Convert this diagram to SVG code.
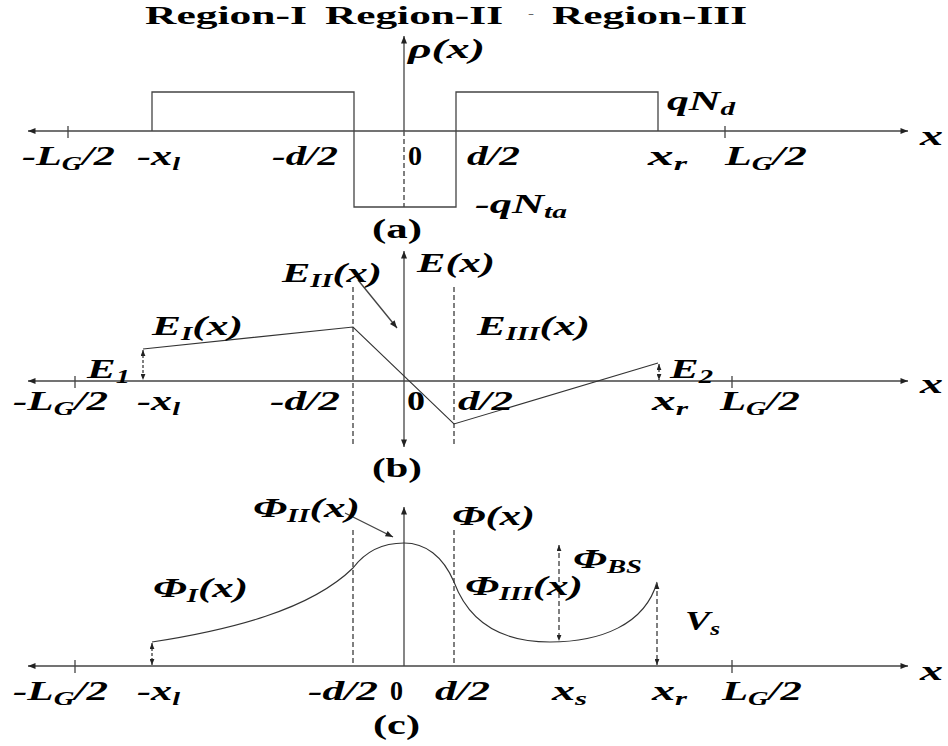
<svg xmlns="http://www.w3.org/2000/svg" width="948" height="746" viewBox="0 0 948 746">
<style>
.t{font-family:"Liberation Serif","Times New Roman",serif;font-weight:bold;font-style:italic;font-size:27px;fill:#000}
.u{font-family:"Liberation Serif","Times New Roman",serif;font-weight:bold;font-size:27px;fill:#000}
.h{font-size:26px}
.s{font-size:18px}
.ln{stroke:#444;stroke-width:1.3;fill:none}
.cv{stroke:#333;stroke-width:1.1;fill:none}
.ds{stroke:#555;stroke-width:1.5;stroke-dasharray:5 3;fill:none}
</style>
<defs>
<marker id="ah" viewBox="0 0 10 8" refX="10" refY="4" markerWidth="9" markerHeight="6" markerUnits="userSpaceOnUse" orient="auto-start-reverse"><path d="M0,0 L10,4 L0,8 z" fill="#222"/></marker>
<marker id="sh" viewBox="0 0 10 8" refX="10" refY="4" markerWidth="6" markerHeight="5" markerUnits="userSpaceOnUse" orient="auto-start-reverse"><path d="M0,0 L10,4 L0,8 z" fill="#222"/></marker>
</defs>
<rect width="948" height="746" fill="#fff"/>

<g id="title">
<text class="u h" x="145" y="24" textLength="162" lengthAdjust="spacingAndGlyphs">Region-I</text>
<text class="u h" x="325" y="24" textLength="178" lengthAdjust="spacingAndGlyphs">Region-II</text>
<text x="528" y="18" style="font-family:'Liberation Serif',serif;font-size:12px;fill:#666" textLength="6" lengthAdjust="spacingAndGlyphs">-</text>
<text class="u h" x="552" y="24" textLength="195" lengthAdjust="spacingAndGlyphs">Region-III</text>
</g>

<g id="connectors">
<!-- panel a -->
<line class="ln" x1="28" y1="131" x2="908" y2="131" marker-start="url(#ah)" marker-end="url(#ah)"/>
<line class="ln" x1="68" y1="126" x2="68" y2="138"/>
<line class="ln" x1="725" y1="126" x2="725" y2="138"/>
<line class="ln" x1="404" y1="131" x2="404" y2="36" marker-end="url(#ah)"/>
<line class="ds" x1="404" y1="131" x2="404" y2="207"/>
<path class="ln" d="M152,131 V92 H354 V207 H456 V92 H658 V131"/>
<!-- panel b -->
<line class="ln" x1="28" y1="381" x2="908" y2="381" marker-start="url(#ah)" marker-end="url(#ah)"/>
<line class="ln" x1="75" y1="376" x2="75" y2="388"/>
<line class="ln" x1="732" y1="376" x2="732" y2="388"/>
<line class="ln" x1="404" y1="251" x2="404" y2="447" marker-start="url(#ah)" marker-end="url(#ah)"/>
<line class="ds" x1="353" y1="287" x2="353" y2="445"/>
<line class="ds" x1="454" y1="287" x2="454" y2="445"/>
<polyline class="cv" points="143,349 353,327 454,424 658,363"/>
<line class="ds" x1="143" y1="350" x2="143" y2="380" marker-start="url(#sh)" marker-end="url(#sh)" style="stroke-dasharray:3 2"/>
<line class="ds" x1="659" y1="364" x2="659" y2="380" marker-start="url(#sh)" marker-end="url(#sh)" style="stroke-dasharray:3 2"/>
<line class="ln" x1="358" y1="280" x2="397" y2="328" marker-end="url(#ah)"/>
<!-- panel c -->
<line class="ln" x1="28" y1="666" x2="908" y2="666" marker-start="url(#ah)" marker-end="url(#ah)"/>
<line class="ln" x1="75" y1="660" x2="75" y2="673"/>
<line class="ln" x1="732" y1="660" x2="732" y2="673"/>
<line class="ln" x1="404" y1="666" x2="404" y2="507" marker-end="url(#ah)"/>
<line class="ds" x1="353" y1="530" x2="353" y2="666"/>
<line class="ds" x1="454" y1="530" x2="454" y2="666"/>
<path class="cv" d="M152,642 C230,630 310,610 353,568 C365,552 382,543 404,543 C425,543 443,556 454,582 C470,625 505,642 550,642 C600,642 645,625 657,582"/>
<line class="ds" x1="152" y1="643" x2="152" y2="665" marker-start="url(#sh)" marker-end="url(#sh)" style="stroke-dasharray:3 2"/>
<line class="ds" x1="559" y1="545" x2="559" y2="641" marker-start="url(#sh)" marker-end="url(#sh)"/>
<line class="ds" x1="657" y1="583" x2="657" y2="665" marker-start="url(#sh)" marker-end="url(#sh)"/>
<line class="ln" x1="345" y1="513" x2="393" y2="537" marker-end="url(#ah)"/>
</g>

<g id="panel-a">
<text class="t" x="408" y="58" textLength="77" lengthAdjust="spacingAndGlyphs">ρ(x)</text>
<text class="t" x="667" y="110" textLength="68" lengthAdjust="spacingAndGlyphs">qN<tspan class="s" dy="5">d</tspan></text>
<text class="t" x="475" y="213" textLength="92" lengthAdjust="spacingAndGlyphs">-qN<tspan class="s" dy="5">ta</tspan></text>
<text class="t" x="22" y="165" textLength="93" lengthAdjust="spacingAndGlyphs">-L<tspan class="s" dy="5">G</tspan><tspan dy="-5">/2</tspan></text>
<text class="t" x="137" y="165" textLength="43" lengthAdjust="spacingAndGlyphs">-x<tspan class="s" dy="5">l</tspan></text>
<text class="t" x="272" y="165" textLength="66" lengthAdjust="spacingAndGlyphs">-d/2</text>
<text class="u" x="408" y="165" textLength="14" lengthAdjust="spacingAndGlyphs">0</text>
<text class="t" x="467" y="165" textLength="53" lengthAdjust="spacingAndGlyphs">d/2</text>
<text class="t" x="648" y="165" textLength="39" lengthAdjust="spacingAndGlyphs">x<tspan class="s" dy="5">r</tspan></text>
<text class="t" x="725" y="165" textLength="82" lengthAdjust="spacingAndGlyphs">L<tspan class="s" dy="5">G</tspan><tspan dy="-5">/2</tspan></text>
<text class="t" x="920" y="145" textLength="23" lengthAdjust="spacingAndGlyphs">x</text>
<text class="u" x="372" y="238" textLength="50" lengthAdjust="spacingAndGlyphs">(a)</text>
</g>

<g id="panel-b">
<text class="t" x="282" y="282" textLength="100" lengthAdjust="spacingAndGlyphs">E<tspan class="s" dy="5">II</tspan><tspan dy="-5">(x)</tspan></text>
<text class="t" x="417" y="272" textLength="78" lengthAdjust="spacingAndGlyphs">E(x)</text>
<text class="t" x="152" y="335" textLength="91" lengthAdjust="spacingAndGlyphs">E<tspan class="s" dy="5">I</tspan><tspan dy="-5">(x)</tspan></text>
<text class="t" x="477" y="335" textLength="113" lengthAdjust="spacingAndGlyphs">E<tspan class="s" dy="5">III</tspan><tspan dy="-5">(x)</tspan></text>
<text class="t" x="87" y="378" textLength="43" lengthAdjust="spacingAndGlyphs">E<tspan class="s" dy="5">1</tspan></text>
<text class="t" x="670" y="378" textLength="43" lengthAdjust="spacingAndGlyphs">E<tspan class="s" dy="5">2</tspan></text>
<text class="t" x="13" y="410" textLength="95" lengthAdjust="spacingAndGlyphs">-L<tspan class="s" dy="5">G</tspan><tspan dy="-5">/2</tspan></text>
<text class="t" x="137" y="410" textLength="43" lengthAdjust="spacingAndGlyphs">-x<tspan class="s" dy="5">l</tspan></text>
<text class="t" x="270" y="410" textLength="70" lengthAdjust="spacingAndGlyphs">-d/2</text>
<text class="u" x="407" y="410" textLength="18" lengthAdjust="spacingAndGlyphs">0</text>
<text class="t" x="458" y="410" textLength="55" lengthAdjust="spacingAndGlyphs">d/2</text>
<text class="t" x="652" y="410" textLength="36" lengthAdjust="spacingAndGlyphs">x<tspan class="s" dy="5">r</tspan></text>
<text class="t" x="720" y="410" textLength="80" lengthAdjust="spacingAndGlyphs">L<tspan class="s" dy="5">G</tspan><tspan dy="-5">/2</tspan></text>
<text class="t" x="920" y="393" textLength="23" lengthAdjust="spacingAndGlyphs">x</text>
<text class="u" x="372" y="477" textLength="50" lengthAdjust="spacingAndGlyphs">(b)</text>
</g>

<g id="panel-c">
<text class="t" x="253" y="517" textLength="107" lengthAdjust="spacingAndGlyphs">Φ<tspan class="s" dy="5">II</tspan><tspan dy="-5">(x)</tspan></text>
<text class="t" x="452" y="525" textLength="83" lengthAdjust="spacingAndGlyphs">Φ(x)</text>
<text class="t" x="573" y="568" textLength="69" lengthAdjust="spacingAndGlyphs">Φ<tspan class="s" dy="5">BS</tspan></text>
<text class="t" x="465" y="595" textLength="118" lengthAdjust="spacingAndGlyphs">Φ<tspan class="s" dy="5">III</tspan><tspan dy="-5">(x)</tspan></text>
<text class="t" x="685" y="630" textLength="35" lengthAdjust="spacingAndGlyphs">V<tspan class="s" dy="5">s</tspan></text>
<text class="t" x="153" y="597" textLength="95" lengthAdjust="spacingAndGlyphs">Φ<tspan class="s" dy="5">I</tspan><tspan dy="-5">(x)</tspan></text>
<text class="t" x="13" y="700" textLength="95" lengthAdjust="spacingAndGlyphs">-L<tspan class="s" dy="5">G</tspan><tspan dy="-5">/2</tspan></text>
<text class="t" x="137" y="700" textLength="43" lengthAdjust="spacingAndGlyphs">-x<tspan class="s" dy="5">l</tspan></text>
<text class="t" x="308" y="700" textLength="70" lengthAdjust="spacingAndGlyphs">-d/2</text>
<text class="u" x="390" y="700" textLength="13" lengthAdjust="spacingAndGlyphs">0</text>
<text class="t" x="435" y="700" textLength="55" lengthAdjust="spacingAndGlyphs">d/2</text>
<text class="t" x="552" y="700" textLength="35" lengthAdjust="spacingAndGlyphs">x<tspan class="s" dy="5">s</tspan></text>
<text class="t" x="652" y="700" textLength="35" lengthAdjust="spacingAndGlyphs">x<tspan class="s" dy="5">r</tspan></text>
<text class="t" x="722" y="700" textLength="80" lengthAdjust="spacingAndGlyphs">L<tspan class="s" dy="5">G</tspan><tspan dy="-5">/2</tspan></text>
<text class="t" x="920" y="680" textLength="23" lengthAdjust="spacingAndGlyphs">x</text>
<text class="u" x="373" y="734" textLength="47" lengthAdjust="spacingAndGlyphs">(c)</text>
</g>
</svg>
